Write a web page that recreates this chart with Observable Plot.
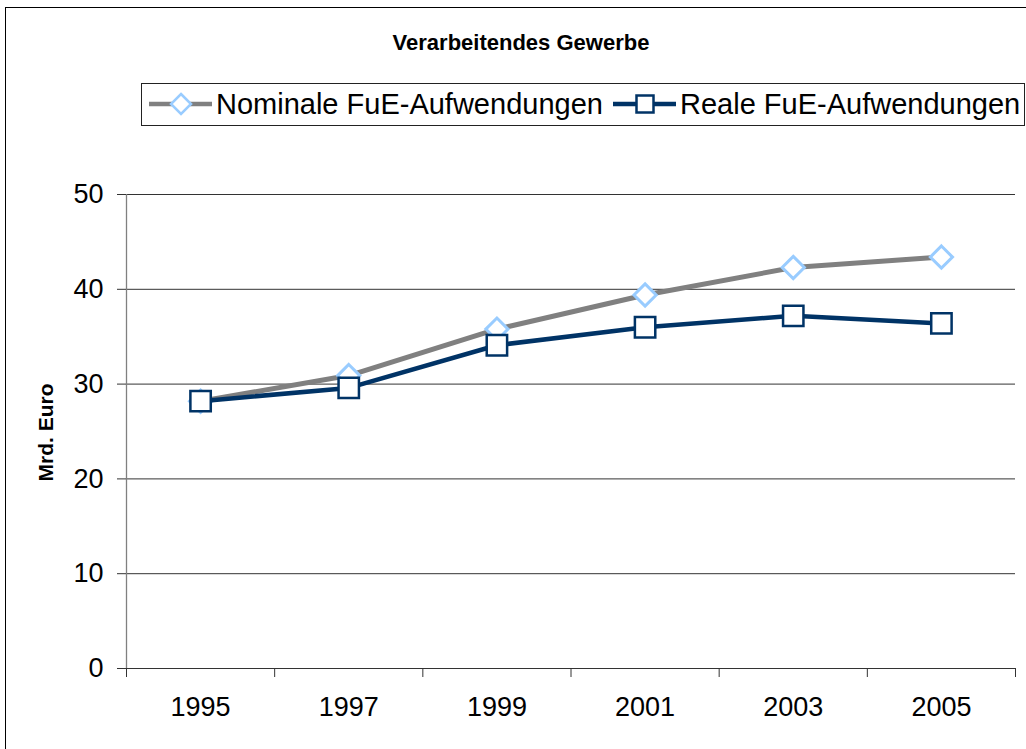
<!DOCTYPE html>
<html>
<head>
<meta charset="utf-8">
<script src="https://cdn.jsdelivr.net/npm/d3@7"></script>
<script src="https://cdn.jsdelivr.net/npm/@observablehq/plot@0.6"></script>
<style>
  html, body { margin: 0; padding: 0; background: #fff; }
  #frame { position: relative; width: 1026px; height: 749px; overflow: hidden; font-family: "Liberation Sans", Arial, sans-serif; }
  #border { position: absolute; left: 5px; top: 7px; width: 1030px; height: 760px; border-left: 1px solid #000; border-top: 1px solid #000; }
  #title { position: absolute; left: 0; width: 1042px; top: 32px; line-height: 1; text-align: center; font-weight: bold; font-size: 22px; color: #000; }
  #legend { position: absolute; left: 141px; top: 83px; width: 884px; height: 43px; border: 1px solid #222; box-sizing: border-box; font-size: 29px; color: #000; white-space: nowrap; }
  #legend svg { position: absolute; top: 5px; }
  #legend span { position: absolute; top: 0; line-height: 41px; }
  #chart { position: absolute; left: 0; top: 170px; }
</style>
</head>
<body>
<div id="frame">
  <div id="border"></div>
  <div id="title">Verarbeitendes Gewerbe</div>
  <div id="legend"></div>
  <div id="chart"></div>
</div>
<script>
const years = [1995, 1997, 1999, 2001, 2003, 2005];
const nominal = [28.2, 30.9, 35.8, 39.4, 42.3, 43.4];
const real = [28.2, 29.6, 34.1, 36.0, 37.2, 36.4];
const seriesNames = ["Nominale FuE-Aufwendungen", "Reale FuE-Aufwendungen"];
const yTicks = [0, 10, 20, 30, 40, 50];
const gridTicks = [10, 20, 30, 40, 50];
const boundaryTicks = [1994, 1996, 1998, 2000, 2002, 2004, 2006];

const nomColor = "#808080", nomMarker = "#99ccff";
const realColor = "#003366";

const dataNom = years.map((y, i) => ({year: y, value: nominal[i]}));
const dataReal = years.map((y, i) => ({year: y, value: real[i]}));

const plot = Plot.plot({
  width: 1026,
  height: 573,
  marginLeft: 126,
  marginRight: 11,
  marginTop: 24,
  marginBottom: 75,
  style: {fontFamily: "'Liberation Sans', Arial, sans-serif", background: "transparent", color: "#000"},
  x: {type: "linear", domain: [1994, 2006], axis: null},
  y: {domain: [0, 50], axis: null},
  marks: [
    Plot.ruleY(gridTicks, {stroke: "#333", strokeWidth: 1}),
    Plot.ruleX([1994], {y1: 0, y2: 50, stroke: "#808080", strokeWidth: 1.3}),
    Plot.ruleY([0], {stroke: "#333", strokeWidth: 1.2}),
    Plot.axisY({ticks: yTicks, tickSize: 9, tickPadding: 14, tickFormat: d => d, fontSize: 27, stroke: "#333", label: null}),
    Plot.axisX({ticks: boundaryTicks, tickSize: 9, tickFormat: () => "", stroke: "#333", label: null}),
    Plot.axisX({ticks: years, tickSize: 0, tickPadding: 28, tickFormat: d => String(d), fontSize: 27, label: null}),
    Plot.text(["Mrd. Euro"], {frameAnchor: "left", dx: -80, dy: 50, rotate: -90, fontWeight: "bold", fontSize: 21}),
    Plot.line(dataNom, {x: "year", y: "value", stroke: nomColor, strokeWidth: 5}),
    Plot.dot(dataNom, {x: "year", y: "value", symbol: "diamond2", r: 10, stroke: nomMarker, strokeWidth: 3, fill: "#fff"}),
    Plot.line(dataReal, {x: "year", y: "value", stroke: realColor, strokeWidth: 4.5}),
    Plot.dot(dataReal, {x: "year", y: "value", symbol: "square", r: 11.5, stroke: realColor, strokeWidth: 2.5, fill: "#fff"})
  ]
});
document.getElementById("chart").appendChild(plot);

// Legend
const legend = d3.select("#legend");
const items = [
  {name: seriesNames[0], line: nomColor, marker: "diamond", mstroke: nomMarker, left: 6, textLeft: 74},
  {name: seriesNames[1], line: realColor, marker: "square", mstroke: realColor, left: 470, textLeft: 538}
];
items.forEach(it => {
  const s = legend.append("svg").attr("width", 66).attr("height", 30).style("left", it.left + "px");
  s.append("line").attr("x1", 1).attr("x2", 64).attr("y1", 15).attr("y2", 15)
    .attr("stroke", it.line).attr("stroke-width", 4.5);
  if (it.marker === "diamond") {
    s.append("path").attr("d", "M33,5 L43,15 L33,25 L23,15 Z").attr("fill", "#fff").attr("stroke", it.mstroke).attr("stroke-width", 2.5);
  } else {
    s.append("rect").attr("x", 24.5).attr("y", 6.5).attr("width", 17).attr("height", 17).attr("fill", "#fff").attr("stroke", it.mstroke).attr("stroke-width", 2.5);
  }
  legend.append("span").text(it.name).style("left", it.textLeft + "px");
});
</script>
</body>
</html>
